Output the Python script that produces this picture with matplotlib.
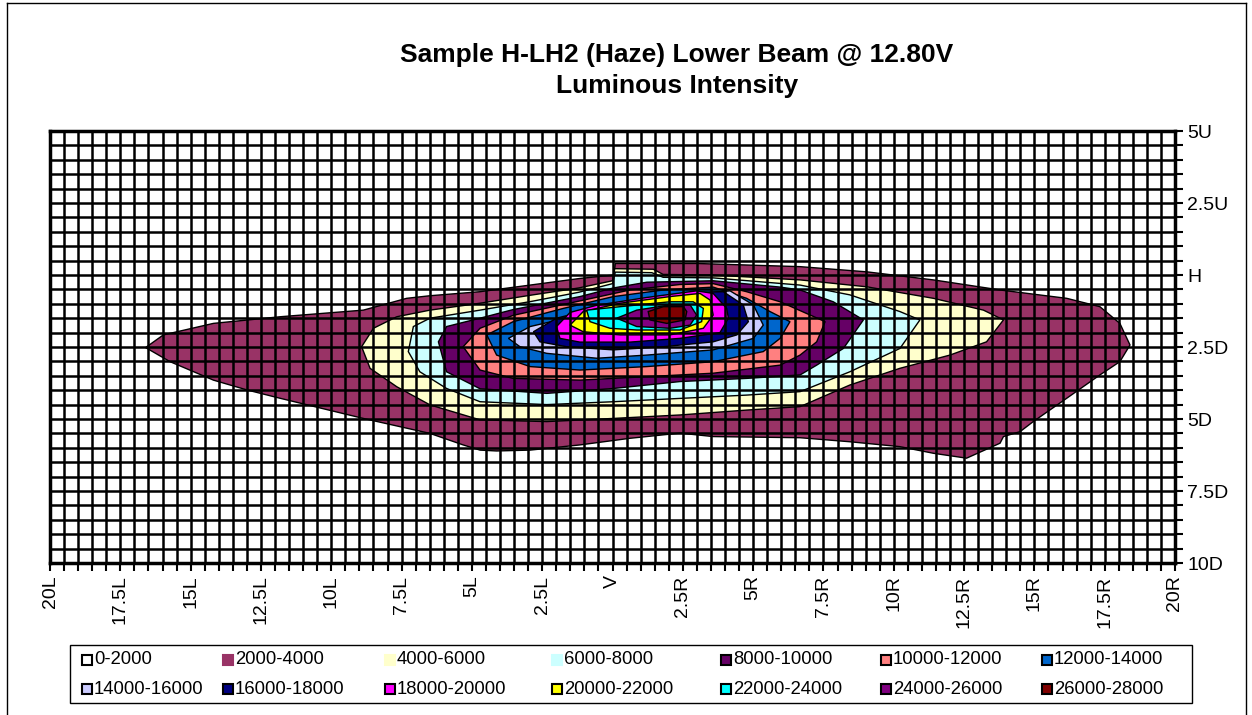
import matplotlib
matplotlib.use("Agg")
import matplotlib.pyplot as plt
from matplotlib.patches import Polygon, Rectangle
from matplotlib.lines import Line2D
import numpy as np

plt.rcParams['font.family'] = ['Liberation Sans', 'DejaVu Sans']

# ---------------- data ----------------
title_line1 = "Sample H-LH2 (Haze) Lower Beam @ 12.80V"
title_line2 = "Luminous Intensity"

x_tick_vals = [-20, -17.5, -15, -12.5, -10, -7.5, -5, -2.5, 0, 2.5, 5, 7.5, 10, 12.5, 15, 17.5, 20]
x_tick_labels = ["20L", "17.5L", "15L", "12.5L", "10L", "7.5L", "5L", "2.5L", "V",
                 "2.5R", "5R", "7.5R", "10R", "12.5R", "15R", "17.5R", "20R"]
y_tick_vals = [5, 2.5, 0, -2.5, -5, -7.5, -10]
y_tick_labels = ["5U", "2.5U", "H", "2.5D", "5D", "7.5D", "10D"]

band_labels = ["0-2000", "2000-4000", "4000-6000", "6000-8000", "8000-10000",
               "10000-12000", "12000-14000", "14000-16000", "16000-18000",
               "18000-20000", "20000-22000", "22000-24000", "24000-26000", "26000-28000"]
band_colors = ["#FFFFFF", "#993366", "#FFFFCC", "#CCFFFF", "#660066", "#FF8080",
               "#0066CC", "#CCCCFF", "#000080", "#FF00FF", "#FFFF00", "#00FFFF",
               "#800080", "#800000"]

# iso-candela outlines (degrees H, degrees V)
iso2000_x = [-16.6, -15.97, -14.19, -11.82, -8.86, -7.32, -6.49, -4.71, -2.93, -1.16, 0.05, 0.1, 3.0,
             6.67, 9.04, 11.41, 13.78, 16.15, 17.33, 18.04, 18.4, 18.04, 17.33, 16.15, 14.96, 14.49,
             13.9, 13.78, 12.59, 11.41, 10.22, 8.44, 6.67, 3.58, 2.4, 0.62, -1.16, -2.93, -4.12,
             -4.71, -5.31, -6.49, -8.86, -11.82, -13.0, -14.19, -15.73]
iso2000_y = [-2.52, -2.08, -1.68, -1.45, -1.22, -0.81, -0.72, -0.58, -0.35, -0.12, 0.0, 0.40, 0.40,
             0.29, 0.11, -0.17, -0.52, -0.81, -1.10, -1.68, -2.43, -3.01, -3.47, -4.28, -5.09, -5.44,
             -5.61, -5.84, -6.36, -6.19, -5.96, -5.79, -5.65, -5.61, -5.49, -5.67, -5.90, -6.08, -6.11,
             -6.08, -5.90, -5.50, -4.98, -4.28, -3.99, -3.65, -3.01]

iso4000_x = [-8.92, -8.5, -7.67, -6.49, -4.71, -2.9, -1.2, 0.0, 0.08, 1.45, 1.8, 3.58, 6.67, 9.04,
             11.41, 13.19, 13.9, 13.3, 12.0, 10.22, 8.44, 6.67, 4.77, 2.4, 0.03, -2.34, -4.71,
             -6.49, -7.67, -8.62]
iso4000_y = [-2.49, -1.85, -1.45, -1.22, -0.98, -0.70, -0.45, -0.20, 0.22, 0.20, 0.02, 0.0, -0.17,
             -0.41, -0.81, -1.22, -1.56, -2.32, -2.78, -3.24, -3.82, -4.57, -4.69, -4.86, -4.98,
             -5.09, -5.03, -4.51, -3.88, -3.24]

iso6000_x = [-7.26, -7.08, -6.49, -4.71, -2.9, -1.2, 0.0, 0.1, 1.4, 1.8, 3.58, 6.67, 8.44, 10.22,
             10.93, 10.22, 8.44, 6.67, 4.77, 0.03, -2.34, -4.71, -5.9, -6.85]
iso6000_y = [-2.66, -1.79, -1.50, -1.22, -0.92, -0.60, -0.30, 0.10, 0.08, -0.08, -0.10, -0.35,
             -0.69, -1.27, -1.56, -2.55, -3.36, -4.05, -4.17, -4.40, -4.50, -4.40, -3.94, -3.36]

iso8000_x = [-6.19, -5.9, -4.71, -3.53, -1.16, 0.03, 1.22, 3.58, 5.96, 6.67, 7.85, 8.92, 8.21,
             7.26, 6.67, 4.77, 2.4, 0.03, -2.34, -4.71, -5.9]
iso8000_y = [-2.32, -1.79, -1.50, -1.20, -0.75, -0.45, -0.25, -0.20, -0.42, -0.52, -0.93, -1.56,
             -2.55, -3.13, -3.47, -3.59, -3.70, -3.94, -4.11, -3.95, -3.36]

iso10000_x = [-5.31, -4.71, -3.53, -1.16, 0.62, 2.4, 3.58, 4.77, 5.96, 7.56, 7.26, 6.67, 5.96,
              3.58, 1.22, -1.16, -3.53, -4.71]
iso10000_y = [-2.49, -1.85, -1.40, -0.90, -0.52, -0.33, -0.30, -0.58, -0.93, -1.62, -2.32, -2.78,
              -3.13, -3.41, -3.53, -3.65, -3.59, -3.30]

iso12000_x = [-4.47, -3.53, -1.75, 0.03, 1.81, 3.58, 4.77, 5.6, 6.31, 5.96, 5.36, 3.58, 1.22,
              -1.16, -2.93, -4.12]
iso12000_y = [-2.08, -1.62, -1.16, -0.75, -0.52, -0.42, -0.81, -1.27, -1.62, -2.20, -2.66, -3.01,
              -3.18, -3.30, -3.18, -2.78]

iso14000_x = [-3.7, -2.93, -1.16, 0.62, 2.4, 4.18, 5.01, 5.36, 5.01, 3.58, 1.22, -0.56, -2.34, -3.29]
iso14000_y = [-2.20, -1.79, -1.39, -1.00, -0.70, -0.55, -1.04, -1.74, -2.20, -2.60, -2.78, -2.89,
              -2.72, -2.49]

iso16000_x = [-2.81, -1.99, -0.56, 1.22, 2.99, 3.94, 4.65, 4.83, 4.42, 3.58, 1.81, 0.03, -1.63, -2.58]
iso16000_y = [-1.97, -1.50, -1.15, -0.85, -0.60, -0.58, -1.04, -1.62, -2.08, -2.32, -2.49, -2.60,
              -2.49, -2.32]

iso18000_x = [-1.99, -1.51, -0.56, 1.22, 2.99, 3.58, 4.06, 4.12, 3.82, 2.4, 0.62, -1.16, -1.87]
iso18000_y = [-1.79, -1.30, -1.05, -0.78, -0.55, -0.64, -1.16, -1.50, -2.00, -2.20, -2.33, -2.33,
              -2.20]

iso20000_x = [-1.51, -1.04, 0.27, 2.04, 3.11, 3.47, 3.58, 3.23, 2.04, 0.27, -1.04]
iso20000_y = [-1.74, -1.27, -0.98, -0.75, -0.64, -0.87, -1.39, -1.85, -2.08, -2.08, -1.97]

iso22000_x = [-0.8, -0.92, 0.27, 2.04, 2.87, 3.23, 3.17, 2.4, 0.86, -0.09]
iso22000_y = [-1.62, -1.22, -1.10, -0.93, -0.93, -1.16, -1.62, -1.91, -1.91, -1.85]

iso24000_x = [0.15, 0.86, 2.04, 2.76, 2.99, 2.76, 2.04, 0.86]
iso24000_y = [-1.50, -1.22, -1.04, -1.04, -1.39, -1.74, -1.85, -1.79]

iso26000_x = [1.27, 1.81, 2.52, 2.64, 2.58, 1.93, 1.33]
iso26000_y = [-1.27, -1.10, -1.10, -1.27, -1.56, -1.68, -1.56]

outlines = [(iso2000_x, iso2000_y), (iso4000_x, iso4000_y), (iso6000_x, iso6000_y),
            (iso8000_x, iso8000_y), (iso10000_x, iso10000_y), (iso12000_x, iso12000_y),
            (iso14000_x, iso14000_y), (iso16000_x, iso16000_y), (iso18000_x, iso18000_y),
            (iso20000_x, iso20000_y), (iso22000_x, iso22000_y), (iso24000_x, iso24000_y),
            (iso26000_x, iso26000_y)]

# ---------------- figure ----------------
W, H = 1252, 715
fig = plt.figure(figsize=(W / 100, H / 100), dpi=100)

# chart-area frame (Excel style)
for (xa, ya) in [((7, 7), (3, 715)), ((7, 1246), (3, 3)), ((1246, 1246), (3, 715))]:
    fig.add_artist(Line2D([xa[0] / W, xa[1] / W], [1 - ya[0] / H, 1 - ya[1] / H],
                          transform=fig.transFigure, color="black", lw=1.0))

ax = fig.add_axes([50 / W, 1 - 563 / H, (1175 - 50) / W, (563 - 131) / H])
ax.set_xlim(-20, 20)
ax.set_ylim(-10, 5)

for i, (xs, ys) in enumerate(outlines):
    ax.add_patch(Polygon(np.column_stack([xs, ys]), closed=True,
                         facecolor=band_colors[i + 1], edgecolor="black", lw=1.0, zorder=1))

ax.set_xticks(x_tick_vals)
ax.set_xticklabels(x_tick_labels, rotation=90)
ax.set_xticks(np.arange(-20, 20.01, 0.5), minor=True)
ax.set_yticks(y_tick_vals)
ax.set_yticklabels(y_tick_labels)
ax.set_yticks(np.arange(-10, 5.01, 0.5), minor=True)
ax.yaxis.tick_right()
ax.tick_params(which="both", direction="out", length=6, width=1.5, color="black")
ax.tick_params(axis="both", which="major", labelsize=14, pad=3)
ax.grid(which="both", color="black", lw=1.8)
ax.set_axisbelow(False)
for sp in ax.spines.values():
    sp.set_linewidth(2.5)

fig.text(677 / W, 1 - 55 / H, title_line1, ha="center", va="center", fontsize=19, weight="bold")
fig.text(677 / W, 1 - 86 / H, title_line2, ha="center", va="center", fontsize=19, weight="bold")

# legend
fig.add_artist(Rectangle((70 / W, 1 - 703 / H), (1192 - 70) / W, (703 - 645) / H,
                         transform=fig.transFigure, fill=False, ec="black", lw=1.0))
col_x = [87, 228, 390, 557, 726, 886, 1047]
row_y = [660, 689]
no_edge = {1, 2, 3}
for k, lab in enumerate(band_labels):
    r, c = divmod(k, 7)
    mx, my = col_x[c], row_y[r]
    fig.add_artist(Rectangle(((mx - 5) / W, 1 - (my + 5) / H), 10 / W, 10 / H,
                             transform=fig.transFigure, facecolor=band_colors[k],
                             ec="black" if k not in no_edge else band_colors[k], lw=1.5))
    fig.text((mx + 7) / W, 1 - my / H, lab, ha="left", va="center", fontsize=13.3)

fig.savefig("out.png", dpi=100)
